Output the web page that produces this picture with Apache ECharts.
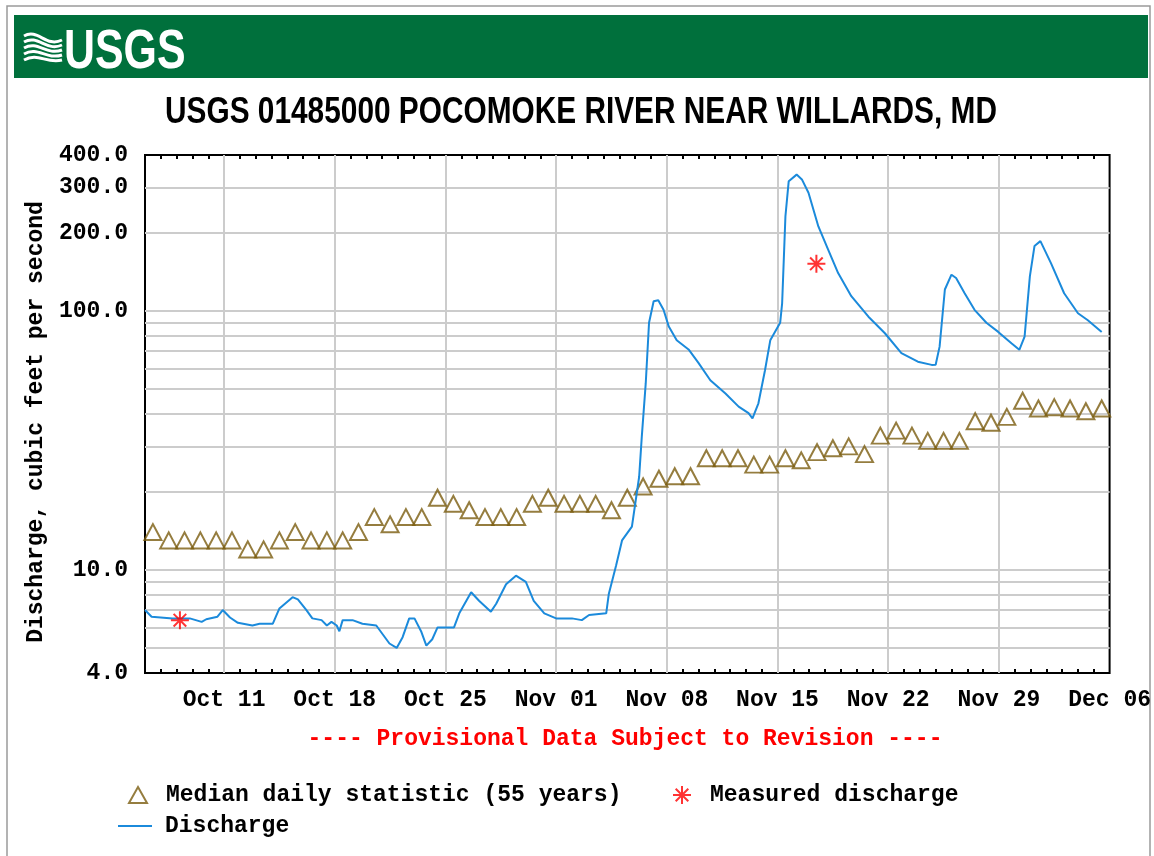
<!DOCTYPE html>
<html><head><meta charset="utf-8">
<script src="https://cdn.jsdelivr.net/npm/echarts@6/dist/echarts.min.js"></script>
<style>html,body{margin:0;padding:0;background:#fff}#c{width:1154px;height:856px}</style>
</head><body><div id="c"></div>
<script>
const YEAR = '2020-';
// Discharge (instantaneous), cubic feet per second
const dischargeTimes = ['10-06 00:00','10-06 10:00','10-07 18:00','10-08 20:00','10-09 14:00','10-09 21:00','10-10 14:00','10-10 22:00','10-11 09:00','10-11 21:00','10-12 19:00','10-13 06:00','10-14 02:00','10-14 12:00','10-15 08:00','10-15 16:00','10-16 05:00','10-16 14:00','10-17 04:00','10-17 12:00','10-17 19:00','10-18 03:00','10-18 07:00','10-18 12:00','10-19 03:00','10-19 18:00','10-20 15:00','10-21 11:00','10-21 22:00','10-22 07:00','10-22 17:00','10-23 01:00','10-23 11:00','10-23 19:00','10-24 04:00','10-24 12:00','10-25 13:00','10-25 21:00','10-26 15:00','10-27 03:00','10-27 21:00','10-28 05:00','10-28 20:00','10-29 11:00','10-30 02:00','10-30 14:00','10-31 06:00','11-01 00:00','11-02 00:00','11-02 15:00','11-03 02:00','11-04 04:00','11-04 08:00','11-04 19:00','11-05 04:00','11-05 19:00','11-06 06:00','11-06 10:00','11-06 16:00','11-06 21:00','11-07 04:00','11-07 11:00','11-07 19:00','11-08 03:00','11-08 15:00','11-09 09:00','11-10 00:00','11-10 18:00','11-11 17:00','11-12 13:00','11-13 04:00','11-13 10:00','11-13 19:00','11-14 05:00','11-14 13:00','11-15 04:00','11-15 07:00','11-15 12:00','11-15 17:00','11-16 05:00','11-16 13:00','11-16 23:00','11-17 14:00','11-18 05:00','11-18 20:00','11-19 16:00','11-20 18:00','11-21 19:00','11-22 20:00','11-23 21:00','11-24 18:00','11-25 00:00','11-25 06:00','11-25 14:00','11-26 00:00','11-26 07:00','11-26 20:00','11-27 11:00','11-28 05:00','11-28 23:00','11-29 19:00','11-30 07:00','11-30 15:00','11-30 23:00','12-01 06:00','12-01 15:00','12-02 07:00','12-03 03:00','12-04 00:00','12-04 15:00','12-05 12:00'];
const dischargeValues = [7.0,6.6,6.5,6.5,6.3,6.45,6.6,7.0,6.55,6.25,6.1,6.2,6.2,7.1,7.85,7.7,7.0,6.5,6.4,6.1,6.3,6.1,5.8,6.4,6.4,6.2,6.1,5.2,5.0,5.5,6.5,6.5,5.8,5.1,5.4,6.0,6.0,6.8,8.2,7.6,6.9,7.4,8.8,9.5,9.0,7.6,6.8,6.5,6.5,6.4,6.7,6.8,8.1,10.4,13.0,14.7,22.9,32.7,52.6,90,109,110,101,87,77,71,63,54,48,42.7,40.3,38.5,44,59,77,90,107,232,317,336,322,286,212,172,140,114,95,82,68.7,63.7,61.9,62,72.8,121,138,134,117,101,90,83,75,70.8,79.6,136,178,186,153,117,98,92,83];
// Median daily statistic (55 years)
const medianDates = ['10-06','10-07','10-08','10-09','10-10','10-11','10-12','10-13','10-14','10-15','10-16','10-17','10-18','10-19','10-20','10-21','10-22','10-23','10-24','10-25','10-26','10-27','10-28','10-29','10-30','10-31','11-01','11-02','11-03','11-04','11-05','11-06','11-07','11-08','11-09','11-10','11-11','11-12','11-13','11-14','11-15','11-16','11-17','11-18','11-19','11-20','11-21','11-22','11-23','11-24','11-25','11-26','11-27','11-28','11-29','11-30','12-01','12-02','12-03','12-04','12-05'];
const medianValues = [14,13,13,13,13,13,12,12,13,14,13,13,13,14,16,15,16,16,19,18,17,16,16,16,18,19,18,18,18,17,19,21,22.5,23,23,27,27,27,25.5,25.5,27,26.5,28.5,29.5,30,28,33,34.5,33,31.5,31.5,31.5,37.5,37,39,45,42,42.5,42,41,42];
// Measured discharge
const measuredTimes = ['10-08 05:00','11-17 11:00'];
const measuredValues = [6.4,152];
// Axis ticks / labels
const xMin = '10-06 00:00', xMax = '12-06 00:00';
const xTickDates = ['10-11','10-18','10-25','11-01','11-08','11-15','11-22','11-29','12-06'];
const xTickLabels = ['Oct 11','Oct 18','Oct 25','Nov 01','Nov 08','Nov 15','Nov 22','Nov 29','Dec 06'];
const yLabelValues = [4,10,100,200,300,400];
const yGridValues = [5,6,7,8,9,10,20,30,40,50,60,70,80,90,100,200,300];

const T = s => {
  const m = /^(\d+)-(\d+)-(\d+) (\d+):(\d+)$/.exec(YEAR + s);
  return Date.UTC(+m[1], +m[2] - 1, +m[3], +m[4], +m[5]);
};
const FONT = 'Liberation Mono';
const xTickTimes = xTickDates.map(d => T(d + ' 00:00'));
const xGridTimes = xTickTimes.filter(t => t < T(xMax));
const dayTicks = [];
for (let t = T(xMin) + 86400000; t < T(xMax); t += 86400000) {
  if (xTickTimes.indexOf(t) < 0) dayTicks.push(t);
}
const labelFor = v => { const i = xTickTimes.indexOf(Math.round(v)); return i >= 0 ? xTickLabels[i] : ''; };

const chart = echarts.init(document.getElementById('c'), null, {renderer: 'canvas'});
const dayAxis = pos => ({
  type: 'value', min: T(xMin), max: T(xMax), position: pos, gridIndex: 0,
  axisLine: {show: false}, axisLabel: {show: false}, splitLine: {show: false},
  axisTick: {show: true, inside: true, length: 4, customValues: dayTicks, lineStyle: {color: '#000', width: 2}}
});
const wave = [];
for (let i = 0; i < 5; i++) {
  wave.push({type: 'bezierCurve', shape: {x1: 24, y1: 36 + 6 * i, cpx1: 38, cpy1: 28 + 6 * i, cpx2: 46, cpy2: 48 + 4 * i, x2: 62, y2: 40 + 5 * i},
    style: {stroke: '#fff', lineWidth: 3, fill: null}});
}
const legendText = {fontFamily: FONT, fontWeight: 'bold', fontSize: 23, lineHeight: 24, color: '#000', padding: [0, 0, 0, 14]};
chart.setOption({
  animation: false,
  backgroundColor: '#fff',
  graphic: [
    {type: 'rect', shape: {x: 7, y: 6, width: 1143, height: 860}, style: {fill: null, stroke: '#9a9a9a', lineWidth: 1.5}},
    {type: 'rect', shape: {x: 14, y: 15, width: 1134, height: 63}, style: {fill: '#00703C'}},
    {type: 'group', children: wave},
    {type: 'text', x: 64, y: 25, scaleX: 0.78, style: {text: 'USGS', fill: '#fff', verticalAlign: 'top', font: 'bold 55px "Liberation Sans", sans-serif'}},
    {type: 'text', x: 581, y: 113, scaleX: 0.806, style: {text: 'USGS 01485000 POCOMOKE RIVER NEAR WILLARDS, MD', fill: '#000', align: 'center', verticalAlign: 'middle', font: 'bold 37px "Liberation Sans", sans-serif'}},
    {type: 'text', x: 625, y: 739, style: {text: '---- Provisional Data Subject to Revision ----', fill: '#ff0000', align: 'center', verticalAlign: 'middle', font: 'bold 23px "' + FONT + '", monospace'}}
  ],
  grid: {left: 145, top: 155, right: 42, bottom: 183, show: true, borderColor: '#000', borderWidth: 2, backgroundColor: '#fff'},
  legend: [
    {left: 128, top: 783, padding: 0, itemWidth: 18, itemHeight: 16, data: ['Median daily statistic (55 years)'], textStyle: legendText},
    {left: 672, top: 783, padding: 0, itemWidth: 18, itemHeight: 18, data: ['Measured discharge'], textStyle: legendText},
    {left: 118, top: 814, padding: 0, itemWidth: 34, itemHeight: 2, icon: 'rect', data: ['Discharge'], textStyle: Object.assign({}, legendText, {padding: [0, 0, 0, 8]})}
  ],
  xAxis: [
    {type: 'value', min: T(xMin), max: T(xMax), position: 'bottom',
     axisLine: {show: false},
     axisTick: {show: false, customValues: xGridTimes},
     axisLabel: {customValues: xTickTimes, formatter: labelFor, margin: 16, color: '#000', fontFamily: FONT, fontWeight: 'bold', fontSize: 23, hideOverlap: false, showMinLabel: true, showMaxLabel: true},
     splitLine: {show: true, lineStyle: {color: '#cccccc', width: 2}}},
    dayAxis('bottom'),
    dayAxis('top')
  ],
  yAxis: {
    type: 'log', logBase: 10, min: 4, max: 400,
    name: 'Discharge, cubic feet per second', nameLocation: 'middle', nameGap: 94,
    nameTextStyle: {fontFamily: FONT, fontWeight: 'bold', fontSize: 23, color: '#000', padding: [0, 16, 0, 0]},
    axisLine: {show: false},
    axisTick: {show: false, customValues: yGridValues},
    axisLabel: {customValues: yLabelValues, formatter: v => Number(v).toFixed(1), margin: 17, color: '#000', fontFamily: FONT, fontWeight: 'bold', fontSize: 23},
    splitLine: {show: true, lineStyle: {color: '#cccccc', width: 2}}
  },
  series: [
    {name: 'Median daily statistic (55 years)', type: 'scatter', z: 3,
     symbol: 'triangle', symbolSize: [17, 16],
     itemStyle: {color: 'rgba(0,0,0,0)', borderColor: '#7A5C0F', borderWidth: 2},
     data: medianDates.map((d, i) => [T(d + ' 12:00'), medianValues[i]])},
    {name: 'Discharge', type: 'line', z: 4, showSymbol: false, symbol: 'none',
     lineStyle: {color: '#1B8ADB', width: 2}, itemStyle: {color: '#1B8ADB'},
     data: dischargeTimes.map((d, i) => [T(d), dischargeValues[i]])},
    {name: 'Measured discharge', type: 'scatter', z: 5,
     symbol: 'path://M0 5L10 5M5 0L5 10M1.5 1.5L8.5 8.5M8.5 1.5L1.5 8.5', symbolSize: 18,
     itemStyle: {color: 'rgba(0,0,0,0)', borderColor: '#ff0000', borderWidth: 2},
     data: measuredTimes.map((d, i) => [T(d), measuredValues[i]])}
  ]
});
</script></body></html>
